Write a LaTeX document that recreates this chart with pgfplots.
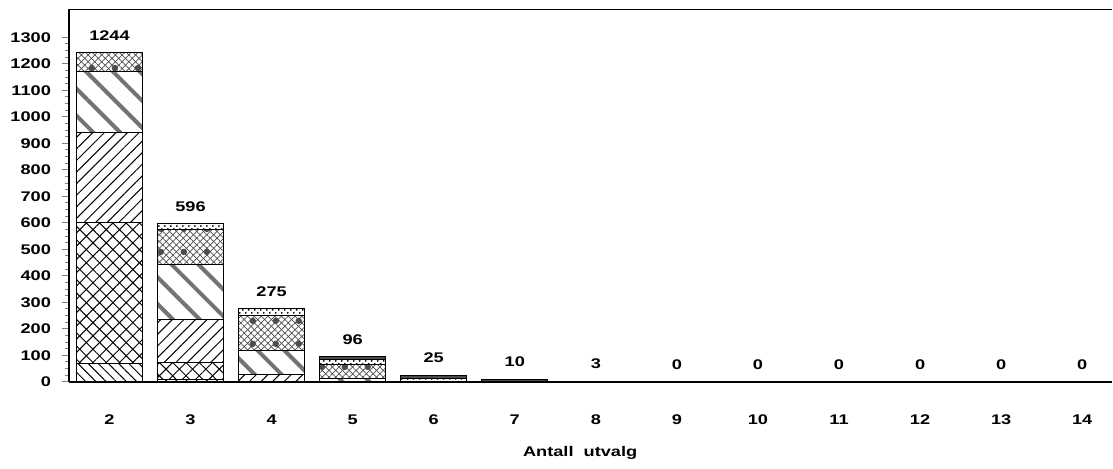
\documentclass[border=0pt]{standalone}
\usepackage{pgfplots}
\pgfplotsset{compat=1.18}
\usepackage{pgfplotstable}
\usetikzlibrary{patterns,patterns.meta}
\usepackage{fontspec}
\setmainfont{Liberation Sans}[FakeStretch=1.3]

% stacked counts per number of samples; last column = bar total
\pgfplotstableread{
x  s1  s2  s3  s4  s5  s6  s7  total
2  70  531 340 230 73  0   0   1244
3  8   65  161 207 135 20  0   596
4  0   0   26  91  132 26  0   275
5  0   0   0   12  52  22  10  96
6  0   0   0   0   0   13  12  25
7  0   0   0   0   0   0   10  10
8  0   0   0   0   0   0   3   3
9  0   0   0   0   0   0   0   0
10 0   0   0   0   0   0   0   0
11 0   0   0   0   0   0   0   0
12 0   0   0   0   0   0   0   0
13 0   0   0   0   0   0   0   0
14 0   0   0   0   0   0   0   0
}\counts

\newcommand{\chartfont}{\fontsize{7}{8}\selectfont\bfseries}

\pgfplotsset{
  frame/.style={
    scale only axis,
    width=522pt, height=186.4pt,
    xmin=1.5, xmax=14.37,
    ymin=0, ymax=1406,
    /pgf/number format/1000 sep={},
    /pgf/number format/assume math mode=true,
  },
}

\begin{document}
\begin{tikzpicture}
\begin{axis}[
  frame, name=ax,
  ybar stacked, bar width=33pt,
  axis x line*=bottom, axis y line*=left,
  axis line style={line width=0.8pt},
  xtick={2,...,14}, xtick style={draw=none},
  ytick={0,100,...,1300}, minor y tick num=3,
  tick align=outside, major tick length=3.5pt, minor tick length=2pt,
  ytick style={line width=0.5pt},
  tick label style={font=\chartfont},
  xticklabel style={yshift=-9.5pt},
  yticklabel style={xshift=-2pt},
  xlabel={Antall\ \ utvalg},
  xlabel style={font=\chartfont, at={(axis description cs:0.49,0)}, anchor=center, yshift=-35.5pt},
  every axis plot/.append style={draw=black, line width=0.5pt},
]
\addplot[pattern={Lines[angle=-45,distance=3.6pt,line width=0.5pt]}]
  table[x=x, y=s1] {\counts};
\addplot[pattern={Lines[angle=45,distance=4.7pt,line width=0.5pt]},
  postaction={pattern={Lines[angle=-45,distance=4.7pt,line width=0.5pt]}}]
  table[x=x, y=s2] {\counts};
\addplot[pattern={Lines[angle=45,distance=4.1pt,line width=0.5pt]}]
  table[x=x, y=s3] {\counts};
\addplot[pattern={Lines[angle=-45,distance=9.5pt,line width=2pt]}, pattern color=black!55]
  table[x=x, y=s4] {\counts};
\addplot[pattern={Lines[angle=45,distance=2.4pt,line width=0.35pt]}, pattern color=black!70,
  postaction={pattern={Lines[angle=-45,distance=2.4pt,line width=0.35pt]}, pattern color=black!70},
  postaction={pattern={Dots[distance=11.5pt,radius=1.6pt,yshift=5pt]}}]
  table[x=x, y=s5] {\counts};
\addplot[pattern=crosshatch dots]
  table[x=x, y=s6] {\counts};
\addplot[fill=black!70]
  table[x=x, y=s7] {\counts};
\draw[line width=0.8pt] (rel axis cs:0,1) -- (rel axis cs:1,1);
\end{axis}
% totals above the bars
\begin{axis}[frame, hide axis]
\addplot[draw=none, mark=none, nodes near coords, point meta=explicit,
  every node near coord/.append style={font=\chartfont, anchor=south, yshift=2.5pt}]
  table[x=x, y=total, meta=total] {\counts};
\end{axis}
\path ([xshift=-34.5pt,yshift=4.65pt]ax.north west) rectangle ([yshift=-43.5pt]ax.south east);
\end{tikzpicture}
\end{document}
